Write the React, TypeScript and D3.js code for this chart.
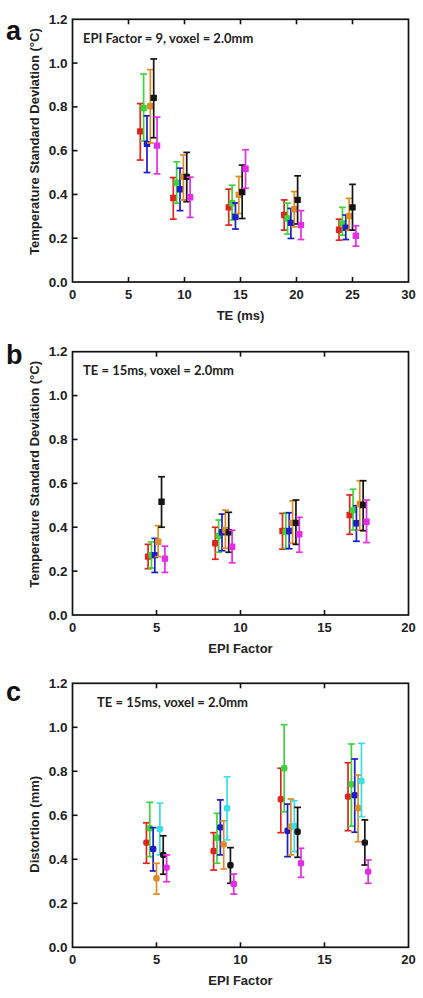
import React from "react";
import * as d3 from "d3";

// ---------- DATA ----------
// Panel a: x = TE (ms), group centres as plotted
const TE_GROUPS = [6.8, 9.75, 14.7, 19.65, 24.55];
// Panel b / c: EPI factor group centres
const EPI_GROUPS = [5, 9, 13, 17];

const Y_TICKS = [0, 0.2, 0.4, 0.6, 0.8, 1.0, 1.2];
const X_TICKS_A = [0, 5, 10, 15, 20, 25, 30];
const X_TICKS_BC = [0, 5, 10, 15, 20];

// each series: [mean, upper, lower] per group
const A_RED = [[0.688, 0.815, 0.557], [0.384, 0.477, 0.287], [0.341, 0.424, 0.26], [0.306, 0.375, 0.237], [0.239, 0.287, 0.191]];
const A_GREEN = [[0.795, 0.95, 0.645], [0.454, 0.549, 0.36], [0.36, 0.442, 0.283], [0.29, 0.36, 0.219], [0.268, 0.341, 0.214]];
const A_BLUE = [[0.631, 0.759, 0.5], [0.424, 0.52, 0.326], [0.298, 0.361, 0.242], [0.27, 0.336, 0.199], [0.248, 0.306, 0.194]];
const A_ORANGE = [[0.803, 0.97, 0.635], [0.48, 0.58, 0.375], [0.398, 0.482, 0.313], [0.332, 0.413, 0.252], [0.301, 0.382, 0.237]];
const A_BLACK = [[0.841, 1.019, 0.659], [0.48, 0.592, 0.367], [0.411, 0.534, 0.29], [0.375, 0.485, 0.265], [0.341, 0.446, 0.237]];
const A_MAGENTA = [[0.623, 0.753, 0.494], [0.387, 0.479, 0.295], [0.517, 0.604, 0.428], [0.26, 0.326, 0.194], [0.211, 0.257, 0.164]];

const B_RED = [[0.266, 0.322, 0.211], [0.327, 0.4, 0.254], [0.383, 0.463, 0.3], [0.456, 0.547, 0.368]];
const B_GREEN = [[0.273, 0.333, 0.214], [0.36, 0.433, 0.286], [0.38, 0.466, 0.304], [0.478, 0.573, 0.387]];
const B_BLUE = [[0.273, 0.349, 0.194], [0.377, 0.46, 0.293], [0.383, 0.466, 0.302], [0.418, 0.498, 0.336]];
const B_ORANGE = [[0.334, 0.407, 0.266], [0.387, 0.478, 0.304], [0.42, 0.52, 0.327], [0.506, 0.612, 0.387]];
const B_BLACK = [[0.516, 0.63, 0.4], [0.377, 0.468, 0.286], [0.42, 0.524, 0.322], [0.501, 0.612, 0.384]];
const B_MAGENTA = [[0.257, 0.314, 0.194], [0.311, 0.386, 0.238], [0.368, 0.445, 0.286], [0.425, 0.524, 0.33]];

const C_RED = [[0.476, 0.566, 0.382], [0.438, 0.521, 0.351], [0.673, 0.814, 0.521], [0.685, 0.839, 0.53]];
const C_GREEN = [[0.541, 0.659, 0.412], [0.498, 0.609, 0.382], [0.814, 1.012, 0.616], [0.741, 0.924, 0.551]];
const C_BLUE = [[0.447, 0.544, 0.347], [0.545, 0.67, 0.42], [0.53, 0.651, 0.412], [0.691, 0.856, 0.523]];
const C_ORANGE = [[0.314, 0.382, 0.242], [0.468, 0.575, 0.356], [0.548, 0.674, 0.42], [0.633, 0.783, 0.48]];
const C_CYAN = [[0.538, 0.655, 0.42], [0.632, 0.775, 0.488], [0.551, 0.666, 0.435], [0.756, 0.927, 0.594]];
const C_BLACK = [[0.42, 0.507, 0.332], [0.373, 0.453, 0.291], [0.525, 0.636, 0.409], [0.476, 0.579, 0.374]];
const C_MAGENTA = [[0.362, 0.42, 0.298], [0.288, 0.333, 0.242], [0.382, 0.45, 0.318], [0.344, 0.397, 0.291]];

// ---------- STYLE ----------
const COLORS: Record<string, string> = {
  red: "#e2231c",
  green: "#3dd43d",
  blue: "#1c1cc8",
  orange: "#de8c26",
  black: "#141414",
  magenta: "#e42de4",
  cyan: "#38dfe6",
};

type Series = { color: string; values: number[][] };
type Panel = {
  letter: string;
  note: string;
  xLabel: string;
  yLabel: string;
  xMax: number;
  xTicks: number[];
  groups: number[];
  series: Series[];
  dodge: number;
  top: number;
  bottom: number;
  noteX: number;
  labelShift: number;
  letterY: number;
  rounded: boolean;
};

const LEFT = 72.5;
const RIGHT = 408.5;

const panels: Panel[] = [
  {
    letter: "a",
    note: "EPI Factor = 9, voxel = 2.0mm",
    xLabel: "TE (ms)",
    yLabel: "Temperature Standard Deviation (°C)",
    xMax: 30,
    xTicks: X_TICKS_A,
    groups: TE_GROUPS,
    series: [
      { color: COLORS.red, values: A_RED },
      { color: COLORS.green, values: A_GREEN },
      { color: COLORS.blue, values: A_BLUE },
      { color: COLORS.orange, values: A_ORANGE },
      { color: COLORS.black, values: A_BLACK },
      { color: COLORS.magenta, values: A_MAGENTA },
    ],
    dodge: 0.3,
    top: 19.3,
    bottom: 282,
    noteX: 83,
    labelShift: -9,
    letterY: 40,
    rounded: false,
  },
  {
    letter: "b",
    note: "TE = 15ms, voxel = 2.0mm",
    xLabel: "EPI Factor",
    yLabel: "Temperature Standard Deviation (°C)",
    xMax: 20,
    xTicks: X_TICKS_BC,
    groups: EPI_GROUPS,
    series: [
      { color: COLORS.red, values: B_RED },
      { color: COLORS.green, values: B_GREEN },
      { color: COLORS.blue, values: B_BLUE },
      { color: COLORS.orange, values: B_ORANGE },
      { color: COLORS.black, values: B_BLACK },
      { color: COLORS.magenta, values: B_MAGENTA },
    ],
    dodge: 0.2,
    top: 351.7,
    bottom: 615,
    noteX: 83,
    labelShift: -9,
    letterY: 363.5,
    rounded: false,
  },
  {
    letter: "c",
    note: "TE = 15ms, voxel = 2.0mm",
    xLabel: "EPI Factor",
    yLabel: "Distortion (mm)",
    xMax: 20,
    xTicks: X_TICKS_BC,
    groups: EPI_GROUPS,
    series: [
      { color: COLORS.red, values: C_RED },
      { color: COLORS.green, values: C_GREEN },
      { color: COLORS.blue, values: C_BLUE },
      { color: COLORS.orange, values: C_ORANGE },
      { color: COLORS.cyan, values: C_CYAN },
      { color: COLORS.black, values: C_BLACK },
      { color: COLORS.magenta, values: C_MAGENTA },
    ],
    dodge: 0.2,
    top: 683.3,
    bottom: 947.3,
    noteX: 97,
    labelShift: 9,
    letterY: 700.5,
    rounded: true,
  },
];

const TICK_FONT = "'Liberation Sans', Arial, sans-serif";
const NOTE_FONT = "Lato, 'Open Sans', sans-serif";

function PanelView({ p }: { p: Panel }) {
  const x = d3.scaleLinear().domain([0, p.xMax]).range([LEFT, RIGHT]);
  const y = d3.scaleLinear().domain([0, 1.2]).range([p.bottom, p.top]);
  const n = p.series.length;
  const fmt = d3.format(".1f");
  const tickLen = 5;
  const capW = 3.4;
  const ms = 6.4;
  const midY = (p.top + p.bottom) / 2 + p.labelShift;

  return (
    <g>
      {/* panel letter */}
      <text x={6} y={p.letterY} fontFamily={TICK_FONT} fontWeight="bold" fontSize={27} fill="#111">
        {p.letter}
      </text>

      {/* note */}
      <text x={p.noteX} y={p.top + 23.5} fontFamily={NOTE_FONT} fontWeight="bold" fontSize={13} fill="#222">
        {p.note}
      </text>

      {/* error bars + markers */}
      {p.series.map((s, si) =>
        s.values.map((v, gi) => {
          const cx = x(p.groups[gi] + (si - (n - 1) / 2) * p.dodge);
          const [m, hi, lo] = v;
          return (
            <g key={`${si}-${gi}`}>
              <line x1={cx} x2={cx} y1={y(hi)} y2={y(lo)} stroke={s.color} strokeWidth={1.7} />
              <line x1={cx - capW} x2={cx + capW} y1={y(hi)} y2={y(hi)} stroke={s.color} strokeWidth={1.7} />
              <line x1={cx - capW} x2={cx + capW} y1={y(lo)} y2={y(lo)} stroke={s.color} strokeWidth={1.7} />
              <rect
                x={cx - ms / 2}
                y={y(m) - ms / 2}
                width={ms}
                height={ms}
                rx={p.rounded ? 2 : 0.6}
                fill={s.color}
              />
            </g>
          );
        })
      )}

      {/* frame */}
      <rect
        x={LEFT}
        y={p.top}
        width={RIGHT - LEFT}
        height={p.bottom - p.top}
        fill="none"
        stroke="#111"
        strokeWidth={1.7}
      />

      {/* y ticks */}
      {Y_TICKS.map((t) => (
        <g key={`y${t}`}>
          {t > 0 && t < 1.2 && (
            <line x1={LEFT} x2={LEFT + tickLen} y1={y(t)} y2={y(t)} stroke="#111" strokeWidth={1.6} />
          )}
          <text
            x={LEFT - 5}
            y={y(t) + 4.6}
            textAnchor="end"
            fontFamily={TICK_FONT}
            fontWeight="bold"
            fontSize={13.5}
            fill="#222"
          >
            {fmt(t)}
          </text>
        </g>
      ))}

      {/* x ticks */}
      {p.xTicks.map((t) => (
        <g key={`x${t}`}>
          {t > 0 && t < p.xMax && (
            <>
              <line x1={x(t)} x2={x(t)} y1={p.bottom} y2={p.bottom - tickLen} stroke="#111" strokeWidth={1.6} />
              <line x1={x(t)} x2={x(t)} y1={p.top} y2={p.top + tickLen} stroke="#111" strokeWidth={1.6} />
            </>
          )}
          <text
            x={x(t)}
            y={p.bottom + 17}
            textAnchor="middle"
            fontFamily={TICK_FONT}
            fontWeight="bold"
            fontSize={13}
            fill="#222"
          >
            {t}
          </text>
        </g>
      ))}

      {/* axis titles */}
      <text
        x={(LEFT + RIGHT) / 2}
        y={p.bottom + 38}
        textAnchor="middle"
        fontFamily={TICK_FONT}
        fontWeight="bold"
        fontSize={13}
        fill="#222"
      >
        {p.xLabel}
      </text>
      <text
        transform={`translate(38.5, ${midY}) rotate(-90)`}
        textAnchor="middle"
        fontFamily={TICK_FONT}
        fontWeight="bold"
        fontSize={13}
        fill="#222"
      >
        {p.yLabel}
      </text>
    </g>
  );
}

export default function App() {
  return (
    <svg
      width={423}
      height={998}
      viewBox="0 0 423 998"
      style={{ position: "absolute", left: 0, top: 0, background: "#fff" }}
    >
      <rect x={0} y={0} width={423} height={998} fill="#fff" />
      {panels.map((p) => (
        <PanelView key={p.letter} p={p} />
      ))}
    </svg>
  );
}
